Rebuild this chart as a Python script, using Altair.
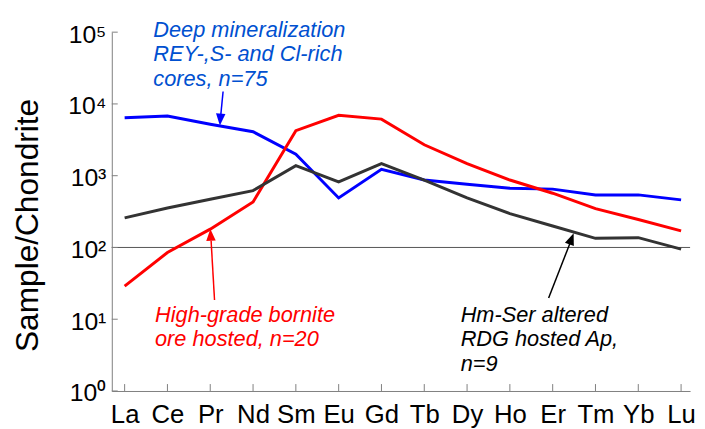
import altair as alt
import pandas as pd

elements = ["La", "Ce", "Pr", "Nd", "Sm", "Eu", "Gd", "Tb", "Dy", "Ho", "Er", "Tm", "Yb", "Lu"]
deep_cores = [6400, 6800, 5200, 4100, 1990, 490, 1230, 870, 760, 670, 650, 540, 540, 460]
bornite_ore = [29, 85, 180, 430, 4240, 6940, 6140, 2700, 1470, 870, 570, 347, 245, 170]
hm_ser_rdg = [258, 355, 470, 620, 1380, 820, 1470, 870, 490, 296, 199, 134, 137, 95]

series_names = ["deep", "bornite", "hmser"]
series_colors = ["#0000ff", "#ff0000", "#333333"]
decades = [1, 10, 100, 1000, 10000, 100000]

rows = []
for name, vals in zip(series_names, [deep_cores, bornite_ore, hm_ser_rdg]):
    for i, v in enumerate(vals):
        rows.append({"idx": i, "value": v, "series": name})
lines_df = pd.DataFrame(rows)

# annotations (in data coordinates)
ann_text = pd.DataFrame({
    "x": [0.67, 0.71, 7.85],
    "y": [85000, 9.1, 9.1],
    "label": ["Deep mineralization\nREY-,S- and Cl-rich\ncores, n=75",
              "High-grade bornite\nore hosted, n=20",
              "Hm-Ser altered\nRDG hosted Ap,\nn=9"],
    "c": ["#0050d0", "#ff0000", "#000000"],
})
arrow_lines = pd.DataFrame({
    "x": [2.30, 2.10, 9.905],
    "y": [14900, 18.5, 19.7],
    "x2": [2.247, 2.02, 10.40],
    "y2": [7100, 124, 113],
    "c": ["#0000ff", "#ff0000", "#000000"],
})
arrow_heads = pd.DataFrame({
    "x": [2.235, 2.01, 10.44],
    "y": [6050, 150, 132],
    "ang": [184, 357, 21],
    "c": ["#0000ff", "#ff0000", "#000000"],
})
ticks_df = pd.DataFrame({"idx": list(range(len(elements)))})
yt_df = pd.DataFrame({"v": decades})

xscale = alt.Scale(domain=[-0.3, 13.21], nice=False, zero=False)
yscale = alt.Scale(type="log", domain=[1, 100000], nice=False)

FONT = "Liberation Sans"

labels_js = "[" + ",".join("'%s'" % e for e in elements) + "]"

xaxis = alt.Axis(values=list(range(len(elements))), labelExpr=labels_js + "[datum.value]",
                 title="", grid=False, ticks=False, tickSize=0, labelFont=FONT,
                 labelFontSize=26, labelColor="#000", labelPadding=11,
                 domainColor="#808080", domainWidth=1, labelFlush=False)
yaxis = alt.Axis(values=decades,
                 labelExpr="'10' + ['⁰','¹','²','³','⁴','⁵'][round(log(datum.value)/LN10)]",
                 title="Sample/Chondrite", titleFont=FONT, titleFontSize=32,
                 titleFontWeight="normal", titleColor="#000", titleAngle=270,
                 titleX=-85, titleY=195, titleAlign="center", titleBaseline="middle",
                 grid=False, ticks=False, tickSize=0, labelFont=FONT, labelFontSize=25,
                 labelColor="#000", labelPadding=6, labelOffset=2, domainColor="#808080",
                 domainWidth=1, labelFlush=False)


def X(field):
    return alt.X(field, scale=xscale, axis=xaxis)


def Y(field):
    return alt.Y(field, scale=yscale, axis=yaxis)


lines = alt.Chart(lines_df).mark_line(strokeWidth=3).encode(
    x=X("idx:Q"),
    y=Y("value:Q"),
    color=alt.Color("series:N", scale=alt.Scale(domain=series_names, range=series_colors), legend=None),
    order=alt.Order("idx:Q"),
)

hline = alt.Chart(pd.DataFrame({"v": [100]})).mark_rule(color="#555555", strokeWidth=1).encode(
    y=Y("v:Q"),
    x=alt.value(0), x2=alt.value(585),
)

xticks = alt.Chart(ticks_df).mark_rule(color="#808080", strokeWidth=1).encode(
    x=X("idx:Q"),
    y=alt.value(363), y2=alt.value(356),
)

yticks = alt.Chart(yt_df).mark_rule(color="#808080", strokeWidth=1).encode(
    y=Y("v:Q"),
    x=alt.value(0), x2=alt.value(6),
)

arrows = alt.Chart(arrow_lines).mark_rule(strokeWidth=1.5).encode(
    x=X("x:Q"), y=Y("y:Q"),
    x2="x2:Q", y2="y2:Q",
    color=alt.Color("c:N", scale=None),
)

heads = alt.Chart(arrow_heads).mark_point(
    shape="M0,-1L0.8,1L-0.8,1Z", filled=True, size=144, opacity=1
).encode(
    x=X("x:Q"), y=Y("y:Q"),
    angle=alt.Angle("ang:Q", scale=None),
    color=alt.Color("c:N", scale=None),
)

texts = alt.Chart(ann_text).mark_text(
    align="left", baseline="alphabetic", font=FONT, fontSize=22, fontStyle="italic",
    lineBreak="\n", lineHeight=24.5
).encode(
    x=X("x:Q"), y=Y("y:Q"),
    text="label:N",
    color=alt.Color("c:N", scale=None),
)

chart = alt.layer(hline, lines, xticks, yticks, arrows, heads, texts).properties(
    width=585, height=363,
    autosize=alt.AutoSizeParams(type="none"),
    padding={"left": 105, "top": 22, "right": 7, "bottom": 36},
    background="white",
).configure_view(stroke=None)

chart.save("out.html", embed_options={"renderer": "svg", "actions": False})
